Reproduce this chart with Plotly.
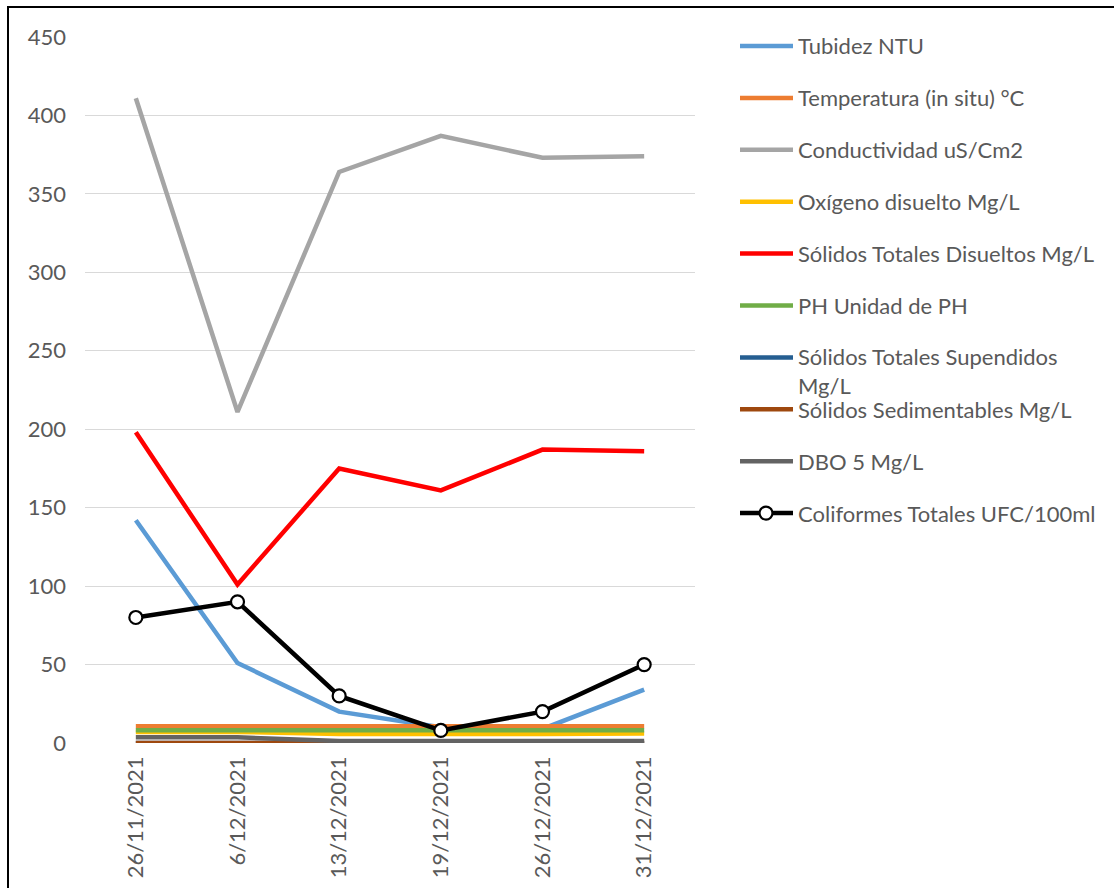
import plotly.graph_objects as go

# Sampling dates (category axis)
fechas = ["26/11/2021", "6/12/2021", "13/12/2021", "19/12/2021", "26/12/2021", "31/12/2021"]

# Measured parameters per sampling date
tubidez = [142, 51, 20, 10, 9, 34]
temperatura = [10.7, 10.6, 10.5, 10.5, 10.6, 10.6]
conductividad = [411, 211, 364, 387, 373, 374]
oxigeno = [7.0, 7.0, 5.8, 5.6, 5.7, 6.0]
solidos_disueltos = [198, 101, 175, 161, 187, 186]
ph = [8.2, 8.2, 8.2, 8.1, 8.2, 8.2]
solidos_suspendidos = [0, 0, 0, 0, 0, 0]
solidos_sedimentables = [0, 0, 0, 0, 0, 0]
dbo5 = [3.6, 3.6, 1.2, 1.0, 1.0, 1.2]
coliformes = [80, 90, 30, 8, 20, 50]

y_ticks = [0, 50, 100, 150, 200, 250, 300, 350, 400, 450]

series = [
    ("Tubidez NTU", tubidez, "#5B9BD5"),
    ("Temperatura (in situ) °C", temperatura, "#ED7D31"),
    ("Conductividad uS/Cm2", conductividad, "#A5A5A5"),
    ("Oxígeno disuelto Mg/L", oxigeno, "#FFC000"),
    ("Sólidos Totales Disueltos Mg/L", solidos_disueltos, "#FF0000"),
    ("PH Unidad de PH", ph, "#70AD47"),
    ("Sólidos Totales Supendidos<br>Mg/L", solidos_suspendidos, "#255E91"),
    ("Sólidos Sedimentables Mg/L", solidos_sedimentables, "#9E480E"),
    ("DBO 5 Mg/L", dbo5, "#636363"),
    ("Coliformes Totales UFC/100ml", coliformes, "#000000"),
]

W, H = 1114, 888
ML, MR, MT, MB = 85, 419, 37, 145
PW, PH_ = W - ML - MR, H - MT - MB
FONT = "Lato"
FS = 22
TXT = "#595959"


def px_x(px):
    return (px - ML) / PW


def px_y(py):
    return (H - MB - py) / PH_


fig = go.Figure()
for i, (name, vals, color) in enumerate(series):
    is_coli = i == len(series) - 1
    fig.add_trace(go.Scatter(
        x=fechas, y=vals, name=name.replace("<br>", " "),
        mode="lines+markers" if is_coli else "lines",
        line=dict(color=color, width=4.5),
        marker=dict(symbol="circle", size=13, color="white",
                    line=dict(color="black", width=2.2)) if is_coli else None,
        showlegend=False, cliponaxis=False,
    ))

# Legend drawn beside the plot: line sample + label per series
shapes = []
annotations = []
row0, step = 46, 51.9
for i, (name, vals, color) in enumerate(series):
    yc = row0 + i * step
    shapes.append(dict(type="line", xref="paper", yref="paper",
                       x0=px_x(740), x1=px_x(793), y0=px_y(yc), y1=px_y(yc),
                       line=dict(color=color, width=4.5)))
    ty = yc + 13.5 if "<br>" in name else yc
    annotations.append(dict(xref="paper", yref="paper", x=px_x(796), y=px_y(ty),
                            xanchor="left", yanchor="middle", align="left",
                            text=name, showarrow=False,
                            font=dict(family=FONT, size=FS, color=TXT)))
    if i == len(series) - 1:
        # open circle marker on the Coliformes legend sample
        shapes.append(dict(type="circle", xref="paper", yref="paper",
                           xsizemode="pixel", ysizemode="pixel",
                           xanchor=px_x(766), yanchor=px_y(yc),
                           x0=-6.5, x1=6.5, y0=-6.5, y1=6.5,
                           fillcolor="white", line=dict(color="black", width=2.2)))

# Outer chart border
shapes.append(dict(type="rect", xref="paper", yref="paper",
                   x0=px_x(8), x1=px_x(1125), y0=px_y(7), y1=px_y(900),
                   line=dict(color="black", width=2), fillcolor="rgba(0,0,0,0)"))

fig.update_layout(
    width=W, height=H,
    margin=dict(l=ML, r=MR, t=MT, b=MB, autoexpand=False),
    paper_bgcolor="white", plot_bgcolor="white",
    font=dict(family=FONT, size=FS, color=TXT),
    xaxis=dict(type="category", range=[-0.5, 5.5], tickangle=-90,
               showgrid=False, zeroline=False, showline=False, ticks="",
               ticklabelstandoff=8, tickfont=dict(family=FONT, size=FS, color=TXT)),
    yaxis=dict(range=[0, 450], tickvals=y_ticks, showgrid=True, gridcolor="#D9D9D9",
               gridwidth=1.3, zeroline=False, showline=False, ticks="",
               ticklabelstandoff=18, tickfont=dict(family=FONT, size=FS, color=TXT)),
    shapes=shapes, annotations=annotations, showlegend=False,
)

fig.write_html("out.html")
